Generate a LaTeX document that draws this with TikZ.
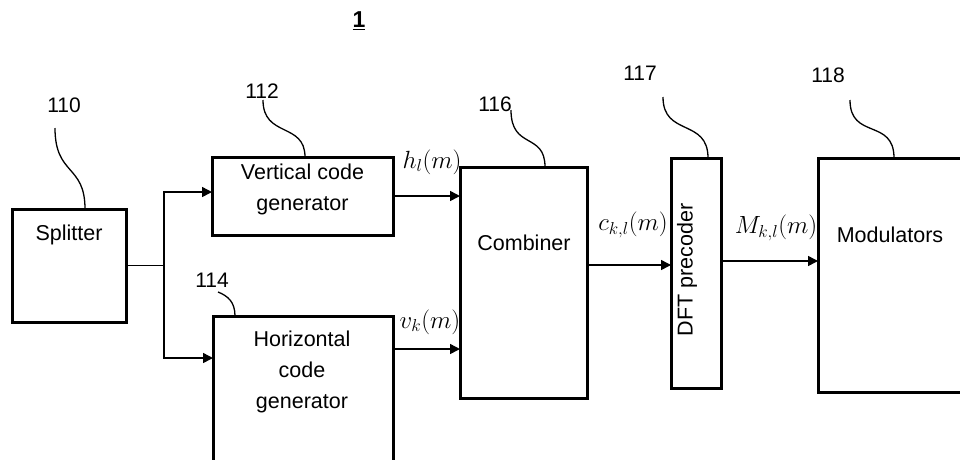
\documentclass[tikz,border=0pt]{standalone}
\usepackage{fontspec}
\setmainfont{Liberation Sans}
\usetikzlibrary{arrows.meta,calc}
\begin{document}
\begin{tikzpicture}[x=1pt,y=-1pt,
  box/.style={draw=black,line width=3pt,inner sep=0pt,outer sep=0pt,fill=white},
  txt/.style={font=\fontsize{21.5}{31}\selectfont,align=center,inner sep=0pt},
  num/.style={font=\fontsize{21}{25}\selectfont,inner sep=0pt},
  mlbl/.style={font=\fontsize{23}{26}\selectfont,inner sep=0pt},
  conn/.style={line width=1.5pt},
  arr/.style={line width=1.5pt,-{Triangle[length=10pt,width=10pt]}},
  lead/.style={line width=1.3pt}]
\clip (0,0) rectangle (960,459);
\fill[white] (0,0) rectangle (960,459);

% title
\node[font=\fontsize{23}{26}\selectfont\bfseries,inner sep=0pt] (title) at (359,21) {\underline{1}};

% boxes
\node[box,minimum width=114pt,minimum height=113pt] (spl) at (69,265.5) {};
\node[box,minimum width=181pt,minimum height=78pt] (vcg) at (302.5,196) {};
\node[box,minimum width=180pt,minimum height=164pt] (hcg) at (303,398) {};
\node[box,minimum width=127pt,minimum height=231pt] (comb) at (523.5,282.5) {};
\node[box,minimum width=50pt,minimum height=230pt] (dft) at (696,273) {};
\node[box,minimum width=157pt,minimum height=234pt] (mod) at (896.5,275) {};

% box texts
\node[txt] (splT) at (69,235) {Splitter};
\node[txt] (vcgT) at (302.5,189) {Vertical code\\generator};
\node[txt] (hcgT) at (302,372) {Horizontal\\code\\generator};
\node[txt] (combT) at (524,243) {Combiner};
\node[txt,rotate=90] (dftT) at (687,270) {DFT precoder};
\node[txt] (modT) at (890,235) {Modulators};

% connectors
\coordinate (split) at (164,265.5);
\coordinate (vcgIn) at ([yshift=4pt]vcg.west);
\coordinate (hcgIn) at ([yshift=40pt]hcg.west);
\coordinate (hcgOut) at ([yshift=49pt]hcg.east);
\coordinate (combOut) at ([yshift=17.5pt]comb.east);
\coordinate (dftOut) at ([yshift=12pt]dft.east);
\draw[conn] (spl.east) -- (split);
\draw[arr] (split) |- (vcgIn);
\draw[arr] (split) |- (hcgIn);
\draw[arr] (vcg.east) -- (comb.west |- vcg.east);
\draw[arr] (hcgOut) -- (comb.west |- hcgOut);
\draw[arr] (combOut) -- (dft.west |- combOut);
\draw[arr] (dftOut) -- (mod.west |- dftOut);

% signal labels
\node[mlbl] (hl) at (432,162) {$h_l(m)$};
\node[mlbl] (vk) at (430,322) {$v_k(m)$};
\node[mlbl] (ckl) at (633,225) {$c_{k,l}(m)$};
\node[mlbl] (Mkl) at (776,228) {$M_{k,l}(m)$};

% reference numbers and leaders
\node[num] (n110) at (64,105) {110};
\coordinate (l110) at (55,128);
\draw[lead] (l110) .. controls +(0,48) and +(0,-45) .. ([xshift=16pt]spl.north);

\node[num] (n112) at (262,91) {112};
\coordinate (l112) at (263,100);
\draw[lead] (l112) .. controls +(0,38) and +(0,-35) .. ([xshift=2.5pt]vcg.north);

\node[num] (n114) at (212,280) {114};
\coordinate (l114) at (218,292);
\draw[lead] (l114) .. controls +(10,4) and +(0,-14) .. ([xshift=-68pt]hcg.north);

\node[num] (n116) at (495,104) {116};
\coordinate (l116) at (511,110);
\draw[lead] (l116) .. controls +(0,40) and +(0,-35) .. ([xshift=21.5pt]comb.north);

\node[num] (n117) at (640,73) {117};
\coordinate (l117) at (663,97);
\draw[lead] (l117) .. controls +(0,40) and +(0,-40) .. ([xshift=12pt]dft.north);

\node[num] (n118) at (828,75) {118};
\coordinate (l118) at (850,100);
\draw[lead] (l118) .. controls +(0,40) and +(0,-40) .. ([xshift=-2.5pt]mod.north);
\end{tikzpicture}
\end{document}
